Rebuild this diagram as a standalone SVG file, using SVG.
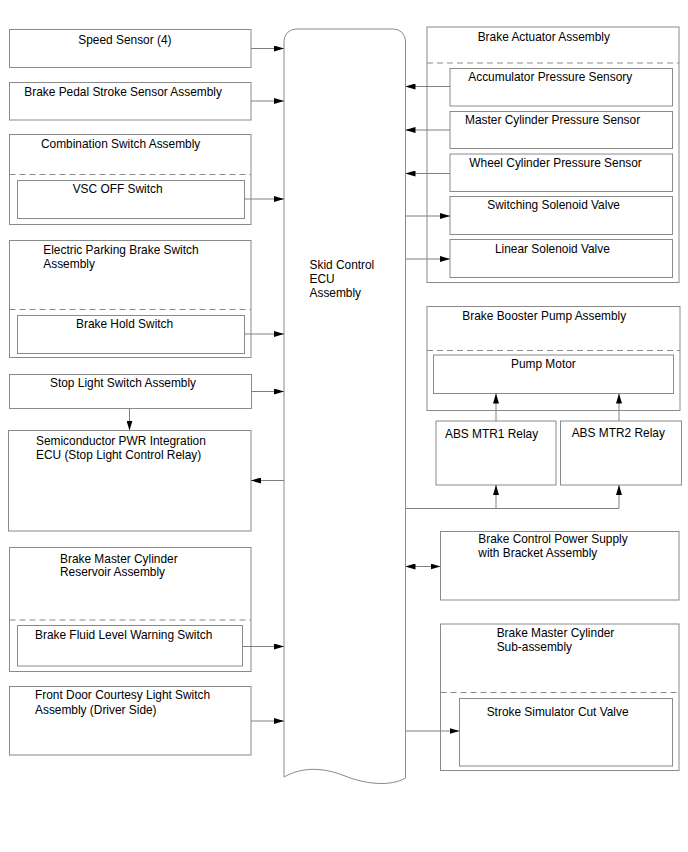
<svg xmlns="http://www.w3.org/2000/svg" width="688" height="852" viewBox="0 0 688 852">
<defs>
<marker id="ah" markerUnits="userSpaceOnUse" markerWidth="10" markerHeight="6" refX="10" refY="3" orient="auto-start-reverse">
<path d="M0,0 L10,3 L0,6 z" fill="#000"/>
</marker>
<style>
.b{fill:#fff;stroke:#8a8a8a;stroke-width:1}
.d{fill:none;stroke:#8a8a8a;stroke-width:1;stroke-dasharray:6,4}
.c{fill:none;stroke:#808080;stroke-width:1;marker-end:url(#ah)}
text{font-family:"Liberation Sans",Arial,sans-serif;font-size:11.9px;fill:#000}
</style>
</defs>
<rect width="688" height="852" fill="#fff"/>

<g id="ecu">
<path class="b" d="M284,41 A12,12 0 0 1 296,29 L393.5,29 A12,12 0 0 1 405.5,41 L405.5,778 C390,787 365,784 345,776 C320,766 300,768 284,777 Z"/>
<text x="309.5" y="269">Skid Control</text>
<text x="309.5" y="283">ECU</text>
<text x="309.5" y="297">Assembly</text>
</g>

<g id="speed-sensor">
<rect class="b" x="9.5" y="29.5" width="241.5" height="38"/>
<text x="78.3" y="43.5">Speed Sensor (4)</text>
</g>
<g id="brake-pedal">
<rect class="b" x="9.5" y="82.5" width="241.5" height="37.5"/>
<text x="24.3" y="96">Brake Pedal Stroke Sensor Assembly</text>
</g>
<g id="combination-switch">
<rect class="b" x="9.5" y="134.5" width="241.5" height="90"/>
<text x="41" y="148">Combination Switch Assembly</text>
<line class="d" x1="9.5" y1="174.5" x2="251" y2="174.5"/>
<g id="vsc-off">
<rect class="b" x="17.5" y="180.5" width="227" height="38"/>
<text x="72.7" y="192.5">VSC OFF Switch</text>
</g>
</g>
<g id="epb-switch">
<rect class="b" x="9.5" y="240.5" width="241.5" height="117"/>
<text x="43.3" y="254">Electric Parking Brake Switch</text>
<text x="43.3" y="267.5">Assembly</text>
<line class="d" x1="9.5" y1="309.5" x2="251" y2="309.5"/>
<g id="brake-hold">
<rect class="b" x="17.5" y="315.5" width="227" height="38"/>
<text x="76" y="328">Brake Hold Switch</text>
</g>
</g>
<g id="stop-light-switch">
<rect class="b" x="9.5" y="374.5" width="242" height="34"/>
<text x="50" y="387">Stop Light Switch Assembly</text>
</g>
<g id="semiconductor">
<rect class="b" x="8.5" y="430.5" width="242.5" height="100.5"/>
<text x="36" y="444.5">Semiconductor PWR Integration</text>
<text x="36" y="459">ECU (Stop Light Control Relay)</text>
</g>
<g id="reservoir">
<rect class="b" x="9.5" y="547.5" width="241.5" height="124"/>
<text x="60" y="562.5">Brake Master Cylinder</text>
<text x="60" y="576">Reservoir Assembly</text>
<line class="d" x1="9.5" y1="620" x2="251" y2="620"/>
<g id="fluid-level">
<rect class="b" x="17.5" y="625.5" width="225" height="40.5"/>
<text x="35" y="638.5">Brake Fluid Level Warning Switch</text>
</g>
</g>
<g id="front-door">
<rect class="b" x="9.5" y="686.5" width="241.5" height="68.5"/>
<text x="35" y="698.5">Front Door Courtesy Light Switch</text>
<text x="35" y="713.5">Assembly (Driver Side)</text>
</g>

<g id="brake-actuator">
<rect class="b" x="427" y="27" width="252" height="255.5"/>
<text x="477.7" y="40.7">Brake Actuator Assembly</text>
<line class="d" x1="427" y1="63" x2="679" y2="63"/>
<g id="accumulator"><rect class="b" x="450" y="68.5" width="222.5" height="37.5"/><text x="468.3" y="80.7">Accumulator Pressure Sensory</text></g>
<g id="master-cyl-sensor"><rect class="b" x="450" y="111.5" width="222.5" height="37"/><text x="465" y="124">Master Cylinder Pressure Sensor</text></g>
<g id="wheel-cyl-sensor"><rect class="b" x="450" y="154" width="222.5" height="37.5"/><text x="469.3" y="167.3">Wheel Cylinder Pressure Sensor</text></g>
<g id="switching-valve"><rect class="b" x="450" y="196.5" width="222.5" height="38"/><text x="487.3" y="209.3">Switching Solenoid Valve</text></g>
<g id="linear-valve"><rect class="b" x="450" y="239.5" width="222.5" height="38"/><text x="495" y="252.7">Linear Solenoid Valve</text></g>
</g>

<g id="booster-pump">
<rect class="b" x="427" y="306.5" width="253" height="104"/>
<text x="462.3" y="320">Brake Booster Pump Assembly</text>
<line class="d" x1="427" y1="350.5" x2="680" y2="350.5"/>
<g id="pump-motor"><rect class="b" x="433.5" y="355" width="240" height="38.5"/><text x="511" y="368.3">Pump Motor</text></g>
</g>
<g id="abs-mtr1"><rect class="b" x="436" y="421" width="120" height="64"/><text x="445" y="438.3">ABS MTR1 Relay</text></g>
<g id="abs-mtr2"><rect class="b" x="560.5" y="421" width="121" height="64"/><text x="571.7" y="436.7">ABS MTR2 Relay</text></g>

<g id="power-supply">
<rect class="b" x="440.5" y="531.5" width="238.5" height="68.5"/>
<text x="478.3" y="543.3">Brake Control Power Supply</text>
<text x="478.3" y="556.7">with Bracket Assembly</text>
</g>
<g id="master-cyl-sub">
<rect class="b" x="440.5" y="624" width="238.5" height="146.5"/>
<text x="496.7" y="636.7">Brake Master Cylinder</text>
<text x="496.7" y="650.7">Sub-assembly</text>
<line class="d" x1="440.5" y1="692.5" x2="679" y2="692.5"/>
<g id="stroke-sim"><rect class="b" x="459.5" y="698.5" width="213" height="67.5"/><text x="486.7" y="716">Stroke Simulator Cut Valve</text></g>
</g>

<g id="connectors">
<path class="c" d="M251,48.5 H284"/>
<path class="c" d="M251,101 H284"/>
<path class="c" d="M244.5,199 H284"/>
<path class="c" d="M244.5,334 H284"/>
<path class="c" d="M251.5,391.5 H284"/>
<path class="c" d="M129.5,408.5 V430.5"/>
<path class="c" d="M284,480.5 H251"/>
<path class="c" d="M242.5,646.5 H284"/>
<path class="c" d="M251,721 H284"/>
<path class="c" d="M450,86.5 H405.5"/>
<path class="c" d="M450,130 H405.5"/>
<path class="c" d="M450,173.5 H405.5"/>
<path class="c" d="M405.5,216 H450"/>
<path class="c" d="M405.5,259 H450"/>
<path class="c" d="M496,421 V393.5"/>
<path class="c" d="M619,421 V393.5"/>
<path class="c" d="M405.5,508.5 H619 V485"/>
<path class="c" d="M496,508.5 V485"/>
<path class="c" style="marker-start:url(#ah)" d="M405.5,566.5 H440.5"/>
<path class="c" d="M405.5,731 H459.5"/>
</g>
</svg>
